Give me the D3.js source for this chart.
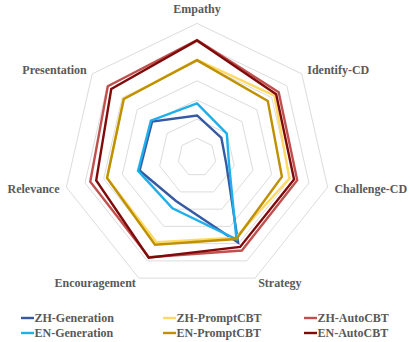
<!DOCTYPE html>
<html>
<head>
<meta charset="utf-8">
<script src="https://cdn.jsdelivr.net/npm/d3@7"></script>
<style>
  body { margin: 0; background: #fff; }
  text { font-family: "Liberation Serif", "Times New Roman", serif; font-weight: bold; fill: #595959; }
</style>
</head>
<body>
<div class="content"></div>
<script>
const axes = ["Empathy", "Identify-CD", "Challenge-CD", "Strategy", "Encouragement", "Relevance", "Presentation"];
const levels = [1, 2, 3, 4, 5, 6, 7];

// one array per series, in axis order
const zhGeneration = [2.19, 1.63, 1.57, 4.94, 2.53, 3.08, 3.00];
const zhPromptCBT  = [5.10, 5.17, 4.95, 4.65, 4.91, 4.82, 4.91];
const zhAutoCBT    = [6.13, 5.46, 5.37, 5.40, 5.79, 5.72, 5.96];
const enGeneration = [2.82, 1.99, 1.72, 4.75, 2.95, 3.16, 3.08];
const enPromptCBT  = [5.08, 4.73, 4.55, 4.73, 5.06, 4.82, 4.89];
const enAutoCBT    = [6.11, 5.29, 5.20, 5.19, 5.82, 5.40, 5.73];

const seriesNames = ["ZH-Generation", "ZH-PromptCBT", "ZH-AutoCBT", "EN-Generation", "EN-PromptCBT", "EN-AutoCBT"];
const seriesColors = ["#3559a3", "#ffd966", "#c0504d", "#1fb0ec", "#bf9000", "#7f0a0a"];
const seriesValues = [zhGeneration, zhPromptCBT, zhAutoCBT, enGeneration, enPromptCBT, enAutoCBT];

const width = 410, height = 342;
const cx = 197, cy = 157.4, R = 134;

const svg = d3.select('.content')
    .append('svg')
    .attr('width', width)
    .attr('height', height);

const rScale = d3.scaleLinear().domain([0, 7]).range([0, R]);
const angle = i => -Math.PI / 2 + i * 2 * Math.PI / axes.length;
const pt = (i, v) => [cx + rScale(v) * Math.cos(angle(i)), cy + rScale(v) * Math.sin(angle(i))];

// grid rings
svg.append("g").selectAll("polygon")
    .data(levels)
    .enter().append("polygon")
    .attr("points", l => axes.map((a, i) => pt(i, l).join(",")).join(" "))
    .attr("fill", "none")
    .attr("stroke", "#dcdcdc")
    .attr("stroke-width", 1);

// axis labels
svg.append("g").selectAll("text")
    .data(axes)
    .enter().append("text")
    .attr("x", (d, i) => cx + (R + 7) * Math.cos(angle(i)))
    .attr("y", (d, i) => cy + (R + 7) * Math.sin(angle(i)))
    .attr("dy", (d, i) => Math.sin(angle(i)) < -0.9 ? -3 : (Math.sin(angle(i)) > 0.8 ? 3 : 4.5))
    .attr("text-anchor", (d, i) => {
        const c = Math.cos(angle(i));
        return c > 0.1 ? "start" : (c < -0.1 ? "end" : "middle");
    })
    .attr("font-size", 12)
    .text(d => d);

// series
const line = d3.line().curve(d3.curveLinearClosed);
svg.append("g").selectAll("path")
    .data(seriesValues)
    .enter().append("path")
    .attr("d", vals => line(vals.map((v, i) => pt(i, v))))
    .attr("fill", "none")
    .attr("stroke", (d, i) => seriesColors[i])
    .attr("stroke-width", 2.4)
    .attr("stroke-linejoin", "miter");

// legend (3 columns x 2 rows)
const legendX = [21, 163, 304];
const legendY = [318, 333];
const legend = svg.append("g").selectAll("g")
    .data(seriesNames)
    .enter().append("g")
    .attr("transform", (d, i) => `translate(${legendX[i % 3]}, ${legendY[Math.floor(i / 3)]})`);

legend.append("line")
    .attr("x1", 0).attr("x2", 13)
    .attr("stroke", (d, i) => seriesColors[i])
    .attr("stroke-width", 2.4);

legend.append("text")
    .attr("x", 13.5)
    .attr("dy", 4.2)
    .attr("font-size", 12)
    .text(d => d);
</script>
</body>
</html>
